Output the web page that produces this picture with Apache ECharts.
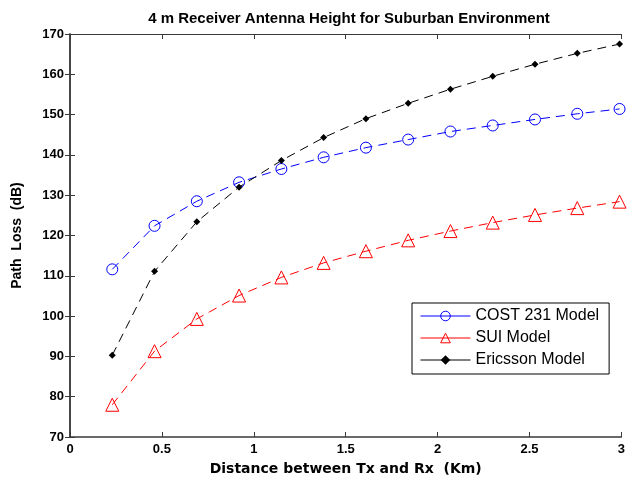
<!DOCTYPE html>
<html>
<head>
<meta charset="utf-8">
<script src="https://cdn.jsdelivr.net/npm/echarts@6/dist/echarts.min.js"></script>
<style>
  html, body { margin: 0; padding: 0; background: #fff; }
  #chart { width: 628px; height: 483px; }
</style>
</head>
<body>
<div id="chart"></div>
<script>
// distance (Km)
const distance = [0.23, 0.46, 0.69, 0.92, 1.15, 1.38, 1.61, 1.84, 2.07, 2.30, 2.53, 2.76, 2.99];
// path loss (dB)
const cost231 = [111.6, 122.4, 128.5, 133.2, 136.5, 139.4, 141.8, 143.8, 145.8, 147.3, 148.8, 150.2, 151.4];
const sui = [78.0, 91.3, 99.3, 105.1, 109.6, 113.2, 116.1, 118.8, 121.1, 123.2, 125.1, 126.8, 128.4];
const ericsson = [90.3, 111.1, 123.4, 132.0, 138.6, 144.3, 149.0, 152.8, 156.3, 159.5, 162.5, 165.2, 167.5];

const xTicks = [0, 0.5, 1, 1.5, 2, 2.5, 3];
const yTicks = [70, 80, 90, 100, 110, 120, 130, 140, 150, 160, 170];

const toPairs = (ys) => distance.map((x, i) => [x, ys[i]]);

const axisColor = "#3a3a3a";
const labelFont = {
  color: "#000",
  fontFamily: "Liberation Sans, Arial, sans-serif",
  fontWeight: "bold",
  fontSize: 13,
};

const myChart = echarts.init(document.getElementById("chart"));
myChart.setOption({
  backgroundColor: "#fff",
  animation: false,
  title: {
    text: "4 m Receiver Antenna Height for Suburban Environment",
    left: 344,
    textAlign: "center",
    top: 6,
    textStyle: {
      color: "#000",
      fontFamily: "Liberation Sans, Arial, sans-serif",
      fontWeight: "bold",
      fontSize: 15,
    },
  },
  grid: {
    left: 70,
    right: 3,
    top: 34,
    bottom: 46,
  },
  legend: {
    orient: "vertical",
    left: 412,
    top: 303,
    width: 200,
    padding: [5, 10, 6, 8],
    itemGap: 6,
    itemWidth: 50,
    itemHeight: 12,
    borderColor: "#000",
    borderWidth: 1,
    backgroundColor: "#fff",
    lineStyle: { type: "solid", width: 1 },
    itemStyle: { borderWidth: 1 },
    textStyle: {
      color: "#000",
      fontFamily: "Liberation Sans, Arial, sans-serif",
      fontSize: 16,
    },
    data: ["COST 231 Model", "SUI Model", "Ericsson Model"],
  },
  xAxis: [
    {
      type: "value",
      position: "bottom",
      min: xTicks[0],
      max: xTicks[xTicks.length - 1],
      interval: 0.5,
      name: "Distance between Tx and Rx  (Km)",
      nameLocation: "middle",
      nameGap: 25,
      nameTextStyle: {
        color: "#000",
        fontFamily: "DejaVu Sans, sans-serif",
        fontWeight: "bold",
        fontSize: 14,
      },
      axisLine: { show: true, lineStyle: { color: axisColor, width: 1.5 } },
      axisTick: { show: true, inside: true, length: 5, lineStyle: { color: axisColor } },
      axisLabel: Object.assign({ margin: 6, formatter: (v) => String(v) }, labelFont),
      splitLine: { show: false },
    },
    {
      type: "value",
      position: "top",
      min: xTicks[0],
      max: xTicks[xTicks.length - 1],
      interval: 0.5,
      axisLine: { show: true, lineStyle: { color: axisColor, width: 1 } },
      axisTick: { show: true, inside: true, length: 5, lineStyle: { color: axisColor } },
      axisLabel: { show: false },
      splitLine: { show: false },
    },
  ],
  yAxis: [
    {
      type: "value",
      position: "left",
      min: yTicks[0],
      max: yTicks[yTicks.length - 1],
      interval: 10,
      name: "Path  Loss  (dB)",
      nameLocation: "middle",
      nameGap: 46,
      nameTextStyle: Object.assign({}, labelFont, { fontSize: 14 }),
      axisLine: { show: true, lineStyle: { color: axisColor, width: 1.5 } },
      axisTick: { show: true, inside: true, length: 5, lineStyle: { color: axisColor } },
      axisLabel: Object.assign({ margin: 6 }, labelFont),
      splitLine: { show: false },
    },
    {
      type: "value",
      position: "right",
      min: yTicks[0],
      max: yTicks[yTicks.length - 1],
      interval: 10,
      axisLine: { show: true, lineStyle: { color: axisColor, width: 1.5 } },
      axisTick: { show: true, inside: true, length: 5, lineStyle: { color: axisColor } },
      axisLabel: { show: false },
      splitLine: { show: false },
    },
  ],
  series: [
    {
      name: "COST 231 Model",
      type: "line",
      data: toPairs(cost231),
      symbol: "circle",
      symbolSize: 11,
      itemStyle: { color: "rgba(255,255,255,0)", borderColor: "#0000ff", borderWidth: 1 },
      lineStyle: { color: "#0000ff", width: 1, type: [9, 6] },
      z: 3,
    },
    {
      name: "SUI Model",
      type: "line",
      data: toPairs(sui),
      symbol: "triangle",
      symbolSize: 13,
      itemStyle: { color: "rgba(255,255,255,0)", borderColor: "#ff0000", borderWidth: 1 },
      lineStyle: { color: "#ff0000", width: 1, type: [9, 6] },
      z: 2,
    },
    {
      name: "Ericsson Model",
      type: "line",
      data: toPairs(ericsson),
      symbol: "diamond",
      symbolSize: 7,
      itemStyle: { color: "#000" },
      lineStyle: { color: "#000", width: 1, type: [9, 6] },
      z: 4,
    },
  ],
});
</script>
</body>
</html>
